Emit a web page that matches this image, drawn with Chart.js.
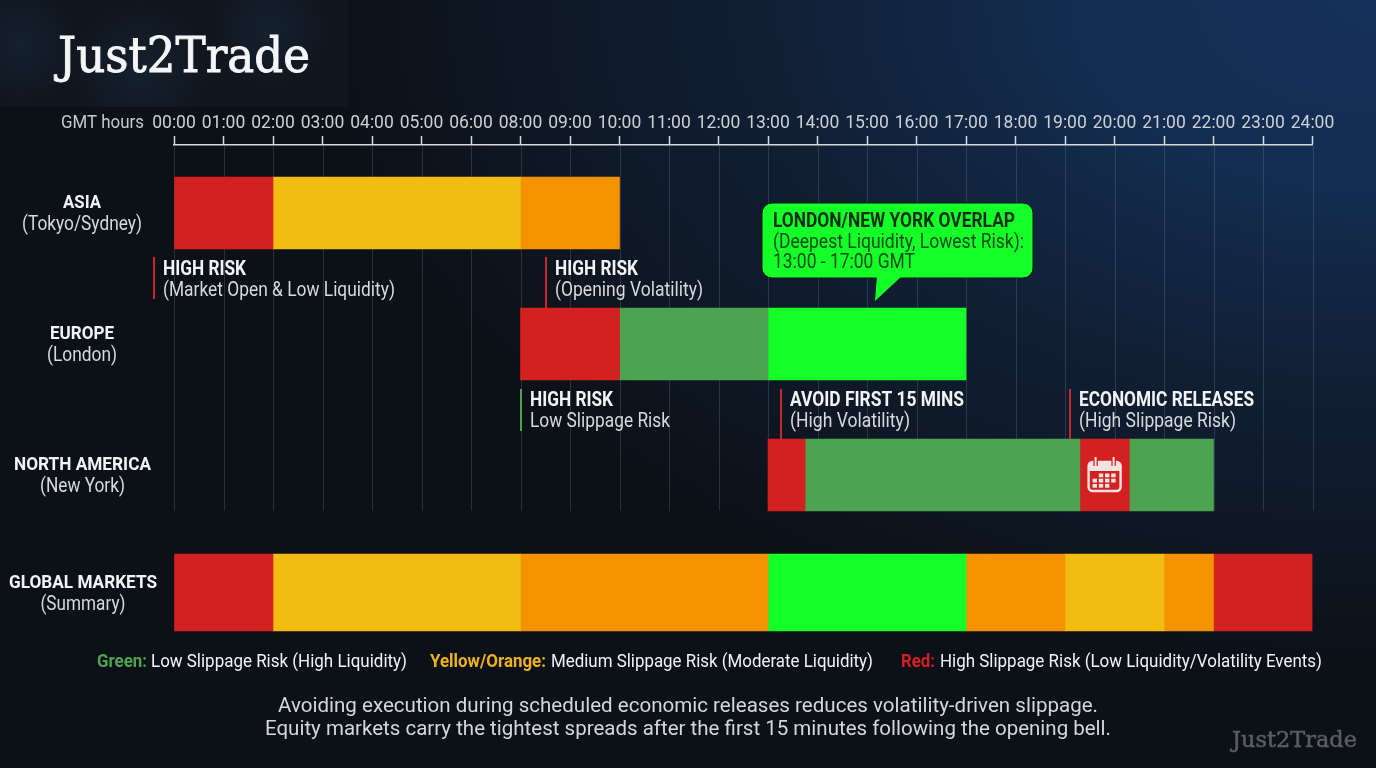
<!DOCTYPE html>
<html>
<head>
<meta charset="utf-8">
<title>Just2Trade slippage risk by session</title>
<script src="https://cdn.jsdelivr.net/npm/chart.js@4"></script>
<style>
  html, body { margin: 0; padding: 0; width: 1376px; height: 768px; overflow: hidden; background: #0c1118; }
  #wrap { width: 1376px; height: 768px; background:
    radial-gradient(ellipse 1050px 660px at 100% 0%, #15305a 0%, #132c4f 30%, rgba(19, 38, 66, 0.68) 58%, rgba(12, 17, 24, 0) 100%), #0c1118; }
  canvas { display: block; }
</style>
</head>
<body>
<div id="wrap"><canvas id="chart" width="1376" height="768"></canvas></div>
<script>
// the axis of the picture has no 07:00 label, so it runs on label slots and not on real hours
const tickLabels = ['00:00', '01:00', '02:00', '03:00', '04:00', '05:00', '06:00', '08:00', '09:00', '10:00', '11:00', '12:00',
  '13:00', '14:00', '15:00', '16:00', '17:00', '18:00', '19:00', '20:00', '21:00', '22:00', '23:00', '24:00'];

const regions = ['ASIA', 'EUROPE', 'NORTH AMERICA', 'GLOBAL MARKETS'];
const regionNotes = ['(Tokyo/Sydney)', '(London)', '(New York)', '(Summary)'];

// segment edges in axis slots, and the risk level of each segment
const asiaEdges = [0, 2, 7, 9];
const asiaRisk = ['high', 'medium', 'elevated'];
const europeEdges = [7, 9, 12, 16];
const europeRisk = ['high', 'low', 'lowest'];
const americaEdges = [12, 12.75, 18.3, 19.3, 21];
const americaRisk = ['high', 'low', 'high', 'low'];
const globalEdges = [0, 2, 7, 12, 16, 18, 20, 21, 23];
const globalRisk = ['high', 'medium', 'elevated', 'lowest', 'elevated', 'medium', 'elevated', 'high'];

const riskColors = { high: '#d32021', medium: '#f2bd12', elevated: '#f59200', low: '#4da350', lowest: '#15ff28' };

// layout: vertical centre of each row on the y scale (0 = axis line), and bar heights
const rowPos = [68, 199, 330, 447.5];
const rowHeight = [72, 72, 72, 77];

const allEdges = [asiaEdges, europeEdges, americaEdges, globalEdges];
const allRisk = [asiaRisk, europeRisk, americaRisk, globalRisk];

const datasets = [];
allEdges.forEach((edges, row) => {
  allRisk[row].forEach((risk, i) => {
    datasets.push({
      data: [{ x: [edges[i], edges[i + 1]], y: rowPos[row] }],
      backgroundColor: riskColors[risk],
      barThickness: rowHeight[row],
      grouped: false
    });
  });
});

const ROBOTO = 'Roboto, sans-serif';

// draw text squeezed to a measured width, the reference uses a condensed face
function fitText(ctx, text, x, y, width, font, color, align, stroke) {
  ctx.save();
  ctx.font = font;
  ctx.fillStyle = color;
  ctx.textBaseline = 'middle';
  ctx.textAlign = 'left';
  const natural = ctx.measureText(text).width;
  const sx = width / natural;
  const left = align === 'center' ? x - width / 2 : x;
  ctx.translate(left, y + 2.5);
  ctx.scale(sx, 1);
  ctx.fillText(text, 0, 0);
  if (stroke) {
    ctx.strokeStyle = color;
    ctx.lineWidth = stroke;
    ctx.strokeText(text, 0, 0);
  }
  ctx.restore();
}

function drawCalendar(ctx, cx, cy) {
  const col = '#f6e4e2';
  ctx.save();
  ctx.fillStyle = col;
  ctx.strokeStyle = col;
  ctx.lineWidth = 2.4;
  ctx.beginPath();
  ctx.roundRect(cx - 16, cy - 13, 32, 29, 4);
  ctx.stroke();
  ctx.beginPath();
  ctx.roundRect(cx - 16, cy - 13, 32, 9, [4, 4, 0, 0]);
  ctx.fill();
  // binder rings
  [-9, 9].forEach((dx) => {
    ctx.strokeStyle = '#d32021';
    ctx.lineWidth = 4.5;
    ctx.beginPath(); ctx.moveTo(cx + dx, cy - 17); ctx.lineTo(cx + dx, cy - 9); ctx.stroke();
    ctx.strokeStyle = col;
    ctx.lineWidth = 2;
    ctx.beginPath(); ctx.moveTo(cx + dx, cy - 18); ctx.lineTo(cx + dx, cy - 9); ctx.stroke();
  });
  // day cells
  const cells = [[1, 0], [2, 0], [3, 0], [0, 1], [1, 1], [2, 1], [3, 1], [0, 2], [1, 2], [2, 2]];
  cells.forEach(([c, r]) => ctx.fillRect(cx - 12 + c * 6.2, cy - 1.5 + r * 5.2, 4.4, 3.8));
  ctx.restore();
}

const notes = [
  { title: 'HIGH RISK', sub: '(Market Open & Low Liquidity)', x: 163, y: 268, tw: 83, sw: 232, line: [154, 257, 299], color: '#c9282b' },
  { title: 'HIGH RISK', sub: '(Opening Volatility)', x: 555, y: 268, tw: 83, sw: 148, line: [546, 257, 308], color: '#c9282b' },
  { title: 'HIGH RISK', sub: 'Low Slippage Risk', x: 530, y: 399, tw: 83, sw: 140, line: [521, 389, 431], color: '#4da350' },
  { title: 'AVOID FIRST 15 MINS', sub: '(High Volatility)', x: 790, y: 399, tw: 174, sw: 120, line: [781, 389, 439], color: '#c9282b' },
  { title: 'ECONOMIC RELEASES', sub: '(High Slippage Risk)', x: 1079, y: 399, tw: 175, sw: 157, line: [1070, 389, 439], color: '#c9282b' }
];

// faint hour lines behind the bars, they stop under the North America row
const hourLines = {
  id: 'hourLines',
  beforeDatasetsDraw(chart) {
    const { ctx } = chart;
    const xs = chart.scales.x;
    ctx.save();
    ctx.strokeStyle = 'rgba(200, 210, 225, 0.16)';
    ctx.lineWidth = 1;
    tickLabels.forEach((t, i) => {
      const px = Math.round(xs.getPixelForValue(i)) + 0.5;
      ctx.beginPath();
      ctx.moveTo(px, 146);
      ctx.lineTo(px, 511);
      ctx.stroke();
    });
    ctx.restore();
  }
};

// logo block goes under everything, dark with a couple of soft blue patches
const logoBlock = {
  id: 'logoBlock',
  beforeDraw(chart) {
    const { ctx } = chart;
    ctx.save();
    ctx.beginPath();
    ctx.rect(0, 0, 348, 107);
    ctx.clip();
    ctx.fillStyle = '#10161f';
    ctx.fillRect(0, 0, 348, 107);
    [[20, 45, 60], [140, 70, 70], [270, 30, 60]].forEach(([x, y, r]) => {
      const g = ctx.createRadialGradient(x, y, 0, x, y, r);
      g.addColorStop(0, 'rgba(32, 56, 84, 0.3)');
      g.addColorStop(1, 'rgba(32, 56, 84, 0)');
      ctx.fillStyle = g;
      ctx.fillRect(x - r, y - r, r * 2, r * 2);
    });
    ctx.restore();
  }
};

const annotations = {
  id: 'annotations',
  afterDraw(chart) {
    const { ctx } = chart;
    const xs = chart.scales.x;
    const ys = chart.scales.y;
    const white = '#f2f3f4';
    const soft = '#d6dade';

    fitText(ctx, 'Just2Trade', 58, 57, 252, '48px "DejaVu Serif", serif', '#f4f5f6', 'left', 0.9);
    fitText(ctx, 'GMT hours', 61, 120.5, 83, '19px ' + ROBOTO, '#c4c9ce');

    // row labels
    regions.forEach((name, i) => {
      const cy = ys.getPixelForValue(rowPos[i]);
      const nameW = [38, 64, 137, 148][i];
      const noteW = [120, 70, 85, 85][i];
      const cx = [82, 82, 82.5, 83][i];
      fitText(ctx, name, cx, cy - 12, nameW, 'bold 19px ' + ROBOTO, white, 'center');
      fitText(ctx, regionNotes[i], cx, cy + 9.5, noteW, '20px ' + ROBOTO, soft, 'center');
    });

    // notes with their tick lines
    notes.forEach((n) => {
      ctx.fillStyle = n.color;
      ctx.fillRect(n.line[0] - 1, n.line[1], 2, n.line[2] - n.line[1]);
      fitText(ctx, n.title, n.x, n.y - 0.5, n.tw, 'bold 20px ' + ROBOTO, white);
      fitText(ctx, n.sub, n.x, n.y + 20.5, n.sw, '20px ' + ROBOTO, soft);
    });

    // overlap callout
    ctx.save();
    ctx.fillStyle = riskColors.lowest;
    ctx.strokeStyle = '#0a1a10';
    ctx.lineWidth = 1;
    ctx.beginPath();
    ctx.roundRect(762, 203, 271, 75, 10);
    ctx.fill();
    ctx.stroke();
    ctx.beginPath();
    ctx.moveTo(877, 276);
    ctx.lineTo(875, 301);
    ctx.lineTo(902, 276);
    ctx.closePath();
    ctx.fill();
    ctx.restore();
    fitText(ctx, 'LONDON/NEW YORK OVERLAP', 773, 219.5, 242, 'bold 20px ' + ROBOTO, '#0a2c10');
    fitText(ctx, '(Deepest Liquidity, Lowest Risk):', 773, 240, 251, '20px ' + ROBOTO, '#0b4a16');
    fitText(ctx, '13:00 - 17:00 GMT', 773, 260, 142, '20px ' + ROBOTO, '#0b4a16');

    drawCalendar(ctx, xs.getPixelForValue((americaEdges[2] + americaEdges[3]) / 2), ys.getPixelForValue(rowPos[2]));

    // legend line
    const ly = 660;
    fitText(ctx, 'Green:', 97, ly, 50, 'bold 19px ' + ROBOTO, riskColors.low);
    fitText(ctx, 'Low Slippage Risk (High Liquidity)', 151, ly, 256, '19px ' + ROBOTO, white);
    fitText(ctx, 'Yellow/Orange:', 430, ly, 116, 'bold 19px ' + ROBOTO, '#efb21c');
    fitText(ctx, 'Medium Slippage Risk (Moderate Liquidity)', 551, ly, 322, '19px ' + ROBOTO, white);
    fitText(ctx, 'Red:', 901, ly, 34, 'bold 19px ' + ROBOTO, riskColors.high);
    fitText(ctx, 'High Slippage Risk (Low Liquidity/Volatility Events)', 940, ly, 382, '19px ' + ROBOTO, white);

    // footer
    fitText(ctx, 'Avoiding execution during scheduled economic releases reduces volatility-driven slippage.', 688, 704, 820, '20px ' + ROBOTO, '#d4d7da', 'center');
    fitText(ctx, 'Equity markets carry the tightest spreads after the first 15 minutes following the opening bell.', 688, 727, 846, '20px ' + ROBOTO, '#d4d7da', 'center');
    fitText(ctx, 'Just2Trade', 1232, 739, 125, '22px "DejaVu Serif", serif', '#5a5d61', 'left', 0.5);
  }
};

new Chart(document.getElementById('chart'), {
  type: 'bar',
  data: { datasets },
  plugins: [logoBlock, hourLines, annotations],
  options: {
    indexAxis: 'y',
    responsive: false,
    animation: false,
    layout: { padding: { left: 174, right: 63.5, top: 0, bottom: 128 } },
    plugins: { legend: { display: false }, tooltip: { enabled: false } },
    scales: {
      x: {
        type: 'linear',
        position: 'top',
        min: 0,
        max: tickLabels.length - 1,
        afterFit(scale) { scale.height = 145; },
        afterBuildTicks(scale) { scale.ticks = tickLabels.map((t, i) => ({ value: i })); },
        border: { display: true, color: '#d8dbde', width: 1.5 },
        grid: { drawOnChartArea: false, drawTicks: true, tickLength: 9, tickColor: '#d8dbde', tickWidth: 1.5 },
        ticks: {
          autoSkip: false,
          maxRotation: 0,
          padding: 2,
          color: '#ccd1d6',
          font: { family: 'Roboto', size: 17.5 },
          callback: (v) => tickLabels[v]
        }
      },
      y: { type: 'linear', display: false, reverse: true, offset: false, min: 0, max: 495 }
    }
  }
});
</script>
</body>
</html>
